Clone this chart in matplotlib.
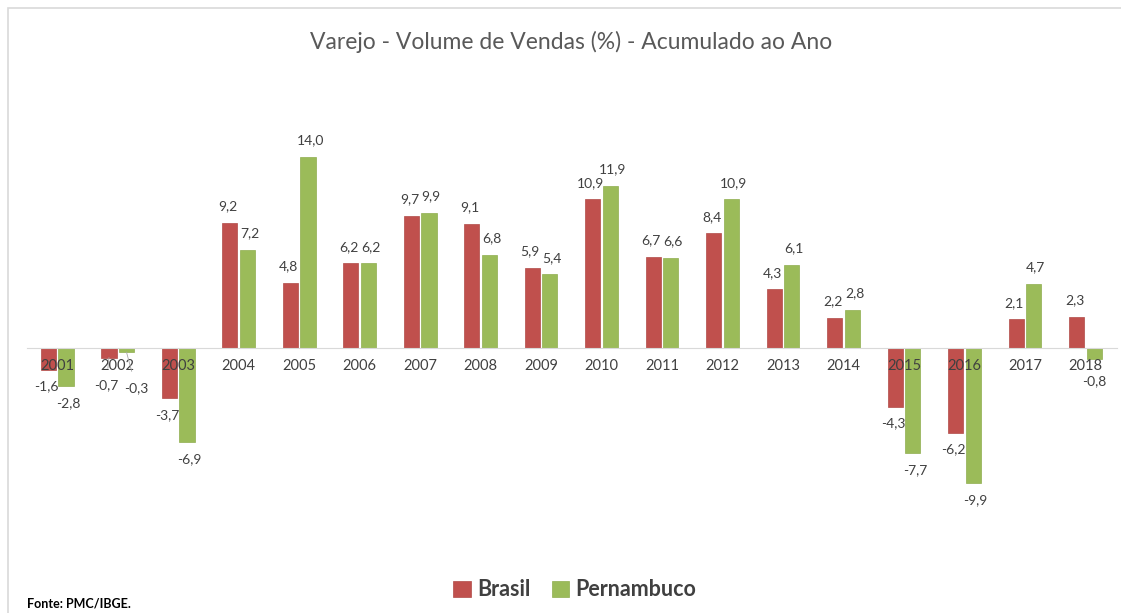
import matplotlib.pyplot as plt
import matplotlib
import numpy as np
from matplotlib.patches import Rectangle

matplotlib.rcParams['font.family'] = ['Lato', 'DejaVu Sans']

anos = ['2001', '2002', '2003', '2004', '2005', '2006', '2007', '2008', '2009',
        '2010', '2011', '2012', '2013', '2014', '2015', '2016', '2017', '2018']
brasil = [-1.6, -0.7, -3.7, 9.2, 4.8, 6.2, 9.7, 9.1, 5.9,
          10.9, 6.7, 8.4, 4.3, 2.2, -4.3, -6.2, 2.1, 2.3]
pernambuco = [-2.8, -0.3, -6.9, 7.2, 14.0, 6.2, 9.9, 6.8, 5.4,
              11.9, 6.6, 10.9, 6.1, 2.8, -7.7, -9.9, 4.7, -0.8]

cor_br = '#c0504d'
cor_pe = '#9bbb59'
cinza = '#404040'

# rotulos deslocados (como no Excel), em pontos
desloc = {(0, 1): (-2, -20), (1, 1): (7, -26), (1, 17): (0, -16)}

fig = plt.figure(figsize=(11.21, 6.13), dpi=100)
fig.patches.append(Rectangle((8/1121, -0.1), 1.2, 1 - 8/613 + 0.1, transform=fig.transFigure,
                             fill=False, edgecolor='#d9d9d9', lw=1.2))

ax = fig.add_axes([27/1121, 1 - 540/613, (1117-27)/1121, 440/613])
x = np.arange(len(anos))
w = 0.25
b1 = ax.bar(x - w/2 - 0.02, brasil, w, color=cor_br, label='Brasil', edgecolor='#b04a47', lw=0.5)
b2 = ax.bar(x + w/2 + 0.02, pernambuco, w, color=cor_pe, label='Pernambuco', edgecolor='#8fae4f', lw=0.5)

ax.set_xlim(-0.5, 17.52)
ax.set_ylim(-(540-348)/13.64, (348-100)/13.64)

for k, (bars, vals) in enumerate([(b1, brasil), (b2, pernambuco)]):
    dx = -1.5 if k == 0 else 1.5
    for i, (r, v) in enumerate(zip(bars, vals)):
        xc = r.get_x() + r.get_width()/2
        off = desloc.get((k, i), (dx, 12 if v >= 0 else -12))
        ap = None
        if (k, i) in desloc and i == 1:
            ap = dict(arrowstyle='-', color='#a6a6a6', lw=0.6, shrinkA=6, shrinkB=0)
        ax.annotate(f'{v:.1f}'.replace('.', ','), (xc, v), xytext=off,
                    textcoords='offset points', ha='center', va='center',
                    fontsize=10, color=cinza, arrowprops=ap)

for s in ['left', 'right', 'top']:
    ax.spines[s].set_visible(False)
ax.spines['bottom'].set_position(('data', 0))
ax.spines['bottom'].set_color('#d9d9d9')
ax.set_yticks([])
ax.set_xticks(x)
ax.set_xticklabels(anos, fontsize=10.5, color=cinza)
ax.tick_params(axis='x', length=0, pad=8)
ax.set_facecolor('none')

fig.text(571/1121, 1 - 42/613, 'Varejo - Volume de Vendas (%) - Acumulado ao Ano',
         ha='center', va='center', fontsize=16.5, color='#595959')

fig.legend(handles=[b1, b2], loc='center', bbox_to_anchor=(575/1121, 1 - 590/613),
           ncol=2, frameon=False, handlelength=0.8, handleheight=0.8,
           handletextpad=0.3, columnspacing=1.0, labelcolor=cinza,
           prop={'weight': 'bold', 'size': 15.5})

fig.text(27/1121, 1 - 603/613, 'Fonte: PMC/IBGE.', ha='left', va='center',
         fontsize=9, fontweight='bold', color='black')

plt.savefig('out.png', dpi=100)
